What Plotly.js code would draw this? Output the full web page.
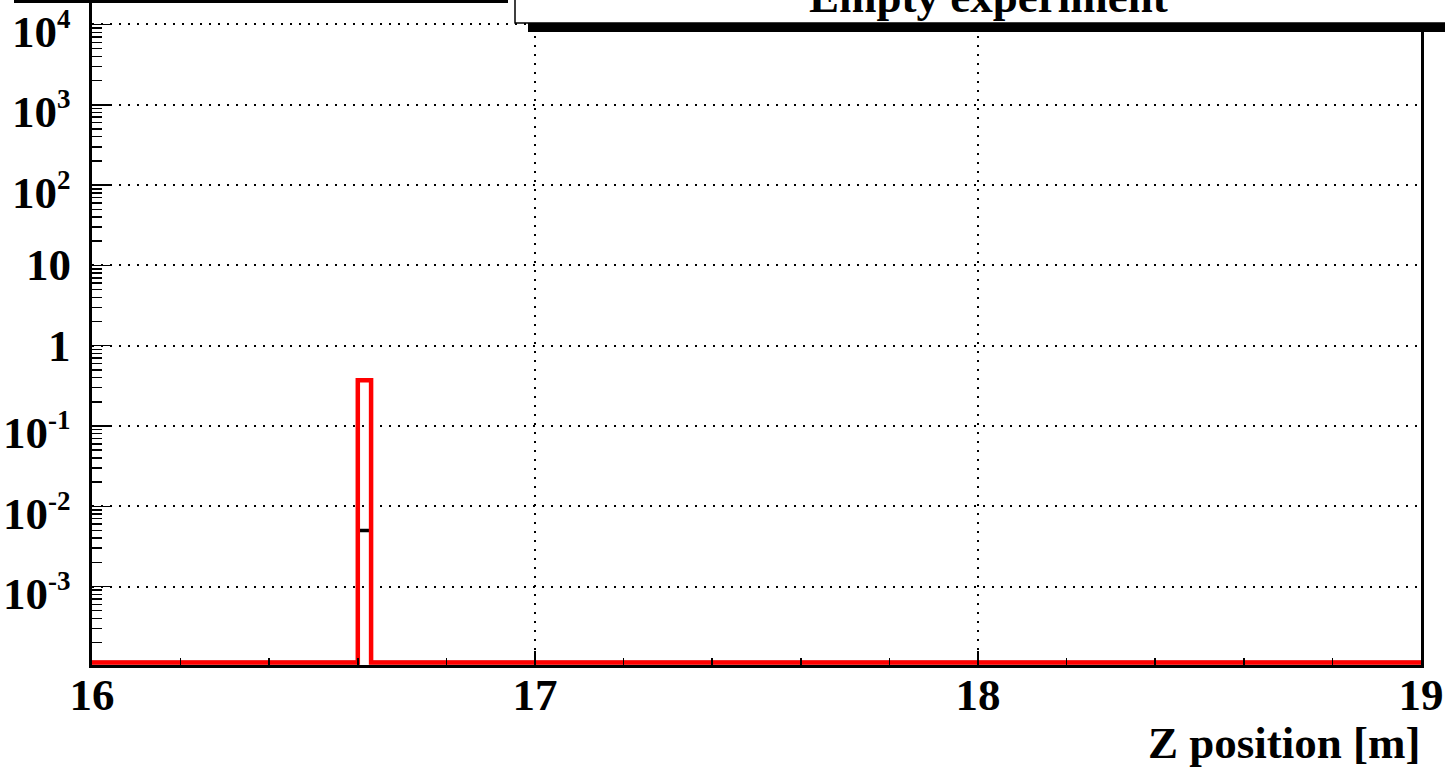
<!DOCTYPE html>
<html>
<head>
<meta charset="utf-8">
<script src="https://cdn.plot.ly/plotly-3.0.1.min.js"></script>
<style>
  html, body { margin: 0; padding: 0; background: #ffffff; }
  #chart { width: 1445px; height: 770px; }
</style>
</head>
<body>
<div id="chart"></div>
<script>
// ---- data ----
const binEdges = [16.0, 16.60, 16.63, 19.0];     // histogram bin edges [m]
const redCounts = [0, 0.37, 0];                   // red histogram contents
const blackCounts = [0, 0.005, 0];                // black histogram contents
const xTickVals = [16, 17, 18, 19];
const xTickText = ["16", "17", "18", "19"];
const yTickVals = [1e-3, 1e-2, 1e-1, 1, 10, 100, 1e3, 1e4];
const yTickBase = ["10", "10", "10", "1", "10", "10", "10", "10"];
const yTickExp = ["-3", "-2", "-1", "", "", "2", "3", "4"];
const titleText = "Empty experiment";
const xTitleText = "Z position [m]";

// ---- layout geometry (pixels) ----
const W = 1445, H = 770;
const L = 92, R = 1421, T = 0, B = 665.5;
const yRange = [-3.977, 4.305];
const yFloor = Math.pow(10, -3.946);   // where empty bins are drawn (axis floor, like ROOT)

const px = x => (x - L) / (R - L);
const py = y => (B - y) / (B - T);

const yTickText = yTickBase.map((b, i) =>
  yTickExp[i] ? b + "<sup><span style='font-size:27px'>" + yTickExp[i] + "</span></sup>" : b);

function stepTrace(counts, color, width) {
  const xs = binEdges.slice();
  const ys = counts.map(v => (v > 0 ? v : yFloor));
  ys.push(ys[ys.length - 1]);
  return {
    type: "scatter", mode: "lines", x: xs, y: ys,
    line: { shape: "hv", color: color, width: width },
    hoverinfo: "skip", showlegend: false
  };
}

const font = { family: "Liberation Serif", size: 45, color: "#000", weight: "bold" };

const traces = [
  stepTrace(blackCounts, "#000000", 3.5),
  stepTrace(redCounts, "#ff0000", 4.5)
];

// y tick labels, right-aligned beside the axis (ROOT style)
const yLabelAnn = yTickVals.map((v, i) => ({
  text: yTickText[i], xref: "paper", yref: "y", x: px(73), y: Math.log10(v),
  xanchor: "right", yanchor: "middle", yshift: yTickExp[i] ? -6 : 0,
  showarrow: false, font: font
}));

const layout = {
  width: W, height: H,
  margin: { l: L, r: W - R, t: T, b: H - B, pad: 0 },
  paper_bgcolor: "#ffffff", plot_bgcolor: "#ffffff",
  showlegend: false,
  font: font,
  xaxis: {
    range: [16, 19], type: "linear",
    tickvals: xTickVals, ticktext: xTickText,
    ticks: "inside", ticklen: 14, tickwidth: 1.5, tickcolor: "#000",
    minor: { ticks: "inside", dtick: 0.2, ticklen: 7, tickwidth: 1.5, tickcolor: "#000", showgrid: false },
    showline: true, linewidth: 3, linecolor: "#000", mirror: true,
    showgrid: true, gridcolor: "#000", gridwidth: 2, griddash: "2px,7px",
    zeroline: false,
    tickfont: font, ticklabelstandoff: -12, ticklabeloverflow: "allow"
  },
  yaxis: {
    type: "log", range: yRange,
    tickvals: yTickVals, ticktext: yTickText, showticklabels: false,
    ticks: "inside", ticklen: 20, tickwidth: 1.5, tickcolor: "#000",
    minor: { ticks: "inside", dtick: "D1", ticklen: 10, tickwidth: 1.5, tickcolor: "#000", showgrid: false },
    showline: true, linewidth: 3, linecolor: "#000", mirror: true,
    showgrid: true, gridcolor: "#000", gridwidth: 2, griddash: "2px,7px",
    zeroline: false
  },
  shapes: [
    // line at the very top left
    { type: "line", xref: "paper", yref: "paper", x0: px(14), x1: px(508), y0: py(1.5), y1: py(1.5),
      line: { color: "#000", width: 3 }, layer: "above" },
    // title box shadow
    { type: "rect", xref: "paper", yref: "paper", x0: px(528), x1: px(1470), y0: py(32), y1: py(22),
      fillcolor: "#000", line: { width: 0 }, layer: "above" },
    // title box
    { type: "rect", xref: "paper", yref: "paper", x0: px(515), x1: px(1470), y0: py(23), y1: py(-10),
      fillcolor: "#fff", line: { color: "#000", width: 1.5 }, layer: "above" }
  ],
  annotations: [
    { text: titleText, xref: "paper", yref: "paper", x: px(988), y: py(-3),
      xanchor: "center", yanchor: "middle", showarrow: false, font: font },
    { text: xTitleText, xref: "paper", yref: "paper", x: px(1423), y: py(744),
      xanchor: "right", yanchor: "middle", showarrow: false, font: font }
  ].concat(yLabelAnn)
};

Plotly.newPlot("chart", traces, layout, { staticPlot: true, displayModeBar: false });
</script>
</body>
</html>
